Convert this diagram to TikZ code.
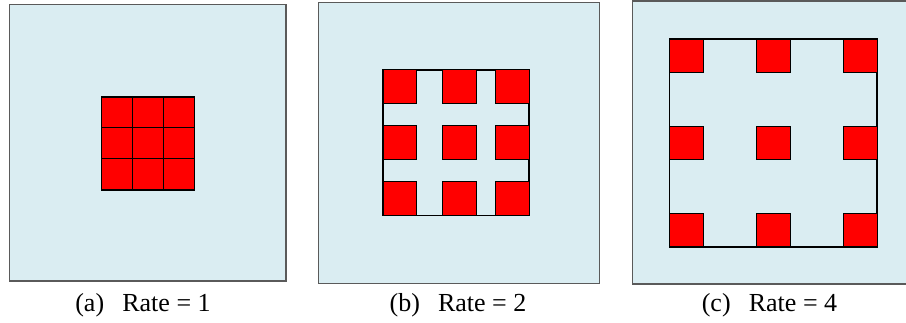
\documentclass[tikz,border=0pt]{standalone}
\usepackage{fontspec}
\setmainfont{Liberation Serif}
\definecolor{bgblue}{HTML}{DAEDF2}
\definecolor{framegray}{HTML}{5A5A5A}
\begin{document}
\begin{tikzpicture}[x=0.75pt,y=-0.75pt,
  panel/.style={fill=bgblue,draw=framegray,line width=1.1pt},
  cell/.style={fill=red,draw=black,line width=0.6pt},
  frame/.style={draw=black,line width=1.2pt},
  captext/.style={font=\fontsize{19.5}{21}\selectfont,anchor=base,inner sep=0pt}]
\useasboundingbox (0,0) rectangle (906,322);
% panel (a)
\draw[panel] (9.3,4.3) rectangle (286,281);
\foreach \i in {0,1,2}
  \foreach \j in {0,1,2}
    \draw[cell] (101.3+31*\i,96.7+31*\j) rectangle ++(31,31);
\draw[frame] (101.3,96.7) rectangle (194.3,189.7);
\node[captext] (la) at (143,311) {(a)\hspace{0.7em}Rate = 1};
% panel (b)
\draw[panel] (318.3,2.3) rectangle (599.3,283.3);
\draw[frame] (383,69.7) rectangle (529,215.3);
\foreach \x in {383,442.3,495.3}
  \foreach \y in {69.7,125.7,181.7}
    \draw[cell] (\x,\y) rectangle ++(33.7,33.7);
\node[captext] (lb) at (458,311) {(b)\hspace{0.7em}Rate = 2};
% panel (c)
\fill[bgblue] (632.3,1) rectangle (906,284);
\draw[framegray,line width=1.1pt] (906,1) -- (632.3,1) -- (632.3,284) -- (906,284);
\draw[frame] (669.3,39) rectangle (877,246.7);
\foreach \x in {669.3,756.3,843.3}
  \foreach \y in {39,126,213}
    \draw[cell] (\x,\y) rectangle ++(33.7,33.7);
\node[captext] (lc) at (769.5,311) {(c)\hspace{0.7em}Rate = 4};
\end{tikzpicture}
\end{document}
